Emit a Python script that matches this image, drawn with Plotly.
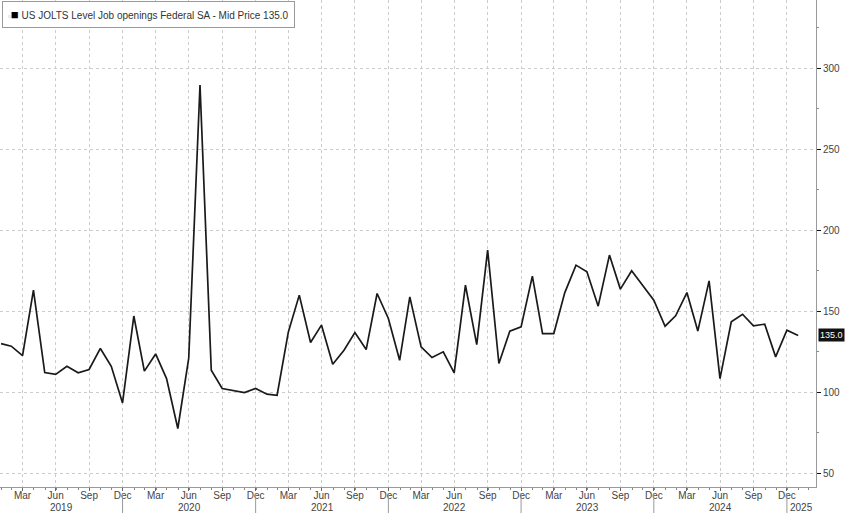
import plotly.graph_objects as go
import pandas as pd

series_name = "US JOLTS Level Job openings Federal SA - Mid Price"
last_label = "135.0"
start_month = "2019-01-31"
values = [130.0, 128.4, 122.6, 163.0, 112.1, 111.0, 116.0, 112.0, 114.0, 127.0, 116.0, 93.4,
          147.0, 113.0, 123.6, 108.4, 77.6, 121.0, 289.5, 113.6, 102.3, 100.8, 99.8, 102.3,
          98.8, 98.1, 137.2, 159.9, 130.7, 141.4, 117.3, 125.9, 136.8, 126.3, 160.9, 145.5,
          119.7, 158.8, 128.0, 121.4, 124.9, 111.9, 166.0, 129.4, 187.7, 117.7, 137.7, 140.3,
          171.6, 136.2, 136.2, 161.3, 178.4, 174.3, 153.1, 184.6, 163.6, 174.9, 166.0, 156.8,
          140.7, 147.1, 161.5, 137.7, 168.7, 108.4, 143.4, 148.1, 140.9, 142.0, 121.8, 138.3,
          135.0]
y_ticks = [50, 100, 150, 200, 250, 300]
month_labels = ["Mar", "Jun", "Sep", "Dec"]
years = [2019, 2020, 2021, 2022, 2023, 2024, 2025]
x_range = ["2019-01-28", "2025-03-21"]
y_range = [41.5, 342]

dates = pd.date_range(start_month, periods=len(values), freq="ME")
qticks = pd.date_range("2019-03-31", "2024-12-31", freq="QE")
qtext = [month_labels[(d.month // 3) - 1] for d in qticks]

FONT = "Liberation Sans"
fig = go.Figure()
fig.add_trace(go.Scatter(x=dates, y=values, mode="lines",
                         line=dict(color="#1a1a1a", width=1.7), showlegend=False,
                         hoverinfo="skip"))

fig.update_layout(
    width=848, height=513,
    margin=dict(l=0, r=32, t=0, b=26),
    paper_bgcolor="white", plot_bgcolor="white",
    font=dict(family=FONT, size=10, color="#444"),
    xaxis=dict(type="date", range=x_range, tickvals=qticks, ticktext=qtext,
               ticks="outside", ticklen=3, tickcolor="#666",
               showline=True, linecolor="#999", linewidth=1,
               showgrid=True, griddash="dot", gridcolor="#cccccc", gridwidth=1,
               zeroline=False, tickfont=dict(size=10, color="#444"),
               ticklabelstandoff=-4,
               minor=dict(tick0="2019-01-01", dtick="M1", ticks="outside", ticklen=2,
                          tickcolor="#888", showgrid=False)),
    yaxis=dict(side="right", range=y_range, tickvals=y_ticks,
               ticks="outside", ticklen=4, tickcolor="#111",
               showline=True, linecolor="#999", linewidth=1,
               showgrid=True, griddash="dot", gridcolor="#cccccc", gridwidth=1,
               zeroline=False, tickfont=dict(size=10, color="#444"),
               minor=dict(dtick=25, ticks="outside", ticklen=2, tickcolor="#888",
                          showgrid=False)),
)

# year labels & separators
r0 = pd.Timestamp(x_range[0]); r1 = pd.Timestamp(x_range[1])
for yr in years:
    s = max(pd.Timestamp(f"{yr}-01-01"), r0)
    e = min(pd.Timestamp(f"{yr}-12-31"), r1)
    c = s + (e - s) / 2
    fig.add_annotation(x=c, y=-20 / 487, xref="x", yref="paper", text=str(yr),
                       showarrow=False, font=dict(size=10, color="#444"),
                       xanchor="center", yanchor="middle")
for yr in years[:-1]:
    b = pd.Timestamp(f"{yr}-12-31")
    fig.add_shape(type="line", x0=b, x1=b, xref="x", yref="paper",
                  y0=-6 / 487, y1=-26 / 487, line=dict(color="#999", width=1))

# legend box
fig.add_annotation(x=0.003, y=0.998, xref="paper", yref="paper", xanchor="left", yanchor="top",
                   text=(f"<span style='color:#aaa;font-size:8px'>▫</span>"
                         f"<span style='color:#000;font-size:13px'>■</span> {series_name} {last_label}"),
                   showarrow=False, align="left",
                   font=dict(size=10, color="#333", family=FONT),
                   bgcolor="white", bordercolor="#999", borderwidth=1, borderpad=5)

# last value tag
fig.add_annotation(x=1.0, y=values[-1], xref="paper", yref="y", xanchor="left", yanchor="middle",
                   xshift=2, text=last_label, showarrow=False,
                   font=dict(size=9, color="white", family=FONT),
                   bgcolor="#111", borderpad=1)

fig.write_html("out.html", config={"displayModeBar": False},
               post_script="document.body.style.margin='0';document.body.style.overflow='hidden';")
